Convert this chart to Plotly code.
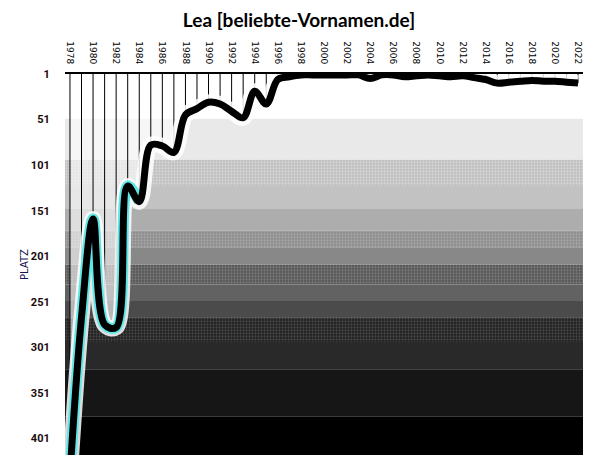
import plotly.graph_objects as go

# Lea - Platz pro Jahr (beliebte-Vornamen.de)
jahre = list(range(1978, 2023))
platz = [
    440, 268, 160, 276, 279, 124, 141, 79, 80, 87,
    46, 39, 32, 34, 42, 49, 20, 34, 7, 4,
    2, 2, 2, 2, 2, 2, 6, 2, 2, 4,
    3, 2, 3, 4, 3, 5, 7, 11, 10, 9,
    8, 9, 9, 10, 11,
]
tick_jahre = list(range(1978, 2023, 2))
tick_platz = list(range(1, 402, 50))

# background bands: (von, bis, farbe, punktfarbe)
baender = [
    (1, 50, "#ffffff", None),
    (50, 95, "#e9e9e9", None),
    (95, 124, "#bdbdbd", "#eeeeee"),
    (124, 149, "#c2c2c2", None),
    (149, 173, "#adadad", None),
    (173, 191, "#8a8a8a", "#c4c4c4"),
    (191, 210, "#888888", None),
    (210, 232, "#555555", "#9c9c9c"),
    (232, 250, "#626262", None),
    (250, 268, "#4b4b4b", None),
    (268, 295, "#1e1e1e", "#6e6e6e"),
    (295, 325, "#292929", None),
    (325, 377, "#161616", None),
    (377, 420, "#000000", None),
]

x_min, x_max = 1977.57, 2022.43
y_unten = 419

fig = go.Figure()

for von, bis, farbe, punkt in baender:
    tr = dict(
        x=[x_min, x_max, x_max, x_min, x_min],
        y=[von, von, bis, bis, von],
        mode="lines",
        line=dict(width=0),
        fill="toself",
        fillcolor=farbe,
        hoverinfo="skip",
        showlegend=False,
    )
    if punkt:
        tr["fillpattern"] = dict(shape=".", bgcolor=farbe, fgcolor=punkt,
                                 size=3, solidity=0.45)
    fig.add_trace(go.Scatter(**tr))

# white veil above the curve
fig.add_trace(go.Scatter(x=jahre, y=[1] * len(jahre), mode="lines",
                         line=dict(width=0), hoverinfo="skip", showlegend=False))
fig.add_trace(go.Scatter(x=jahre, y=platz, mode="lines",
                         line=dict(width=0, shape="spline"),
                         fill="tonexty", fillcolor="rgba(255,255,255,0.6)",
                         hoverinfo="skip", showlegend=False))

# vertical year lines from the top down to the curve
vx, vy = [], []
for j, p in zip(jahre, platz):
    vx += [j, j, None]
    vy += [1, p, None]
fig.add_trace(go.Scatter(x=vx, y=vy, mode="lines",
                         line=dict(color="black", width=1),
                         hoverinfo="skip", showlegend=False))

# glow + line
fig.add_trace(go.Scatter(x=jahre, y=platz, mode="lines",
                         line=dict(color="rgba(255,255,255,0.85)", width=16, shape="spline"),
                         hoverinfo="skip", showlegend=False))
fig.add_trace(go.Scatter(x=jahre[:7], y=platz[:7], mode="lines",
                         line=dict(color="#5ee8e8", width=11, shape="spline"),
                         hoverinfo="skip", showlegend=False))
fig.add_trace(go.Scatter(x=jahre, y=platz, mode="lines",
                         line=dict(color="black", width=7, shape="spline"),
                         name="Lea", showlegend=False))

# the page body adds an 8px offset, margins are set accordingly
fig.update_layout(
    width=598,
    height=470,
    paper_bgcolor="white",
    plot_bgcolor="white",
    margin=dict(l=57, r=23, t=66, b=23),
    title=dict(
        text="<b>Lea [beliebte-Vornamen.de]</b>",
        x=291 / 598, xanchor="center",
        y=1 - 12 / 470, yanchor="middle",
        font=dict(family="Lato", size=19, color="black"),
    ),
    xaxis=dict(
        side="top",
        range=[x_min, x_max],
        tickvals=tick_jahre,
        ticktext=[str(j) for j in tick_jahre],
        tickangle=90,
        tickfont=dict(family="DejaVu Sans", size=9, color="black"),
        ticks="outside", ticklen=5, tickcolor="rgba(0,0,0,0)",
        showline=True, linecolor="black", linewidth=1.5,
        showgrid=False, zeroline=False, automargin=False,
    ),
    yaxis=dict(
        range=[y_unten, 1],
        tickvals=tick_platz,
        ticktext=[str(p) for p in tick_platz],
        tickfont=dict(family="Roboto", size=11, color="#1a0a0a", weight="bold"),
        ticks="outside", ticklen=12, tickcolor="rgba(0,0,0,0)",
        showline=False, showgrid=False, zeroline=False, automargin=False,
        title=dict(text="PLATZ", standoff=0,
                   font=dict(family="DejaVu Sans", size=10, color="#141450")),
    ),
)

fig.write_html("out.html")
